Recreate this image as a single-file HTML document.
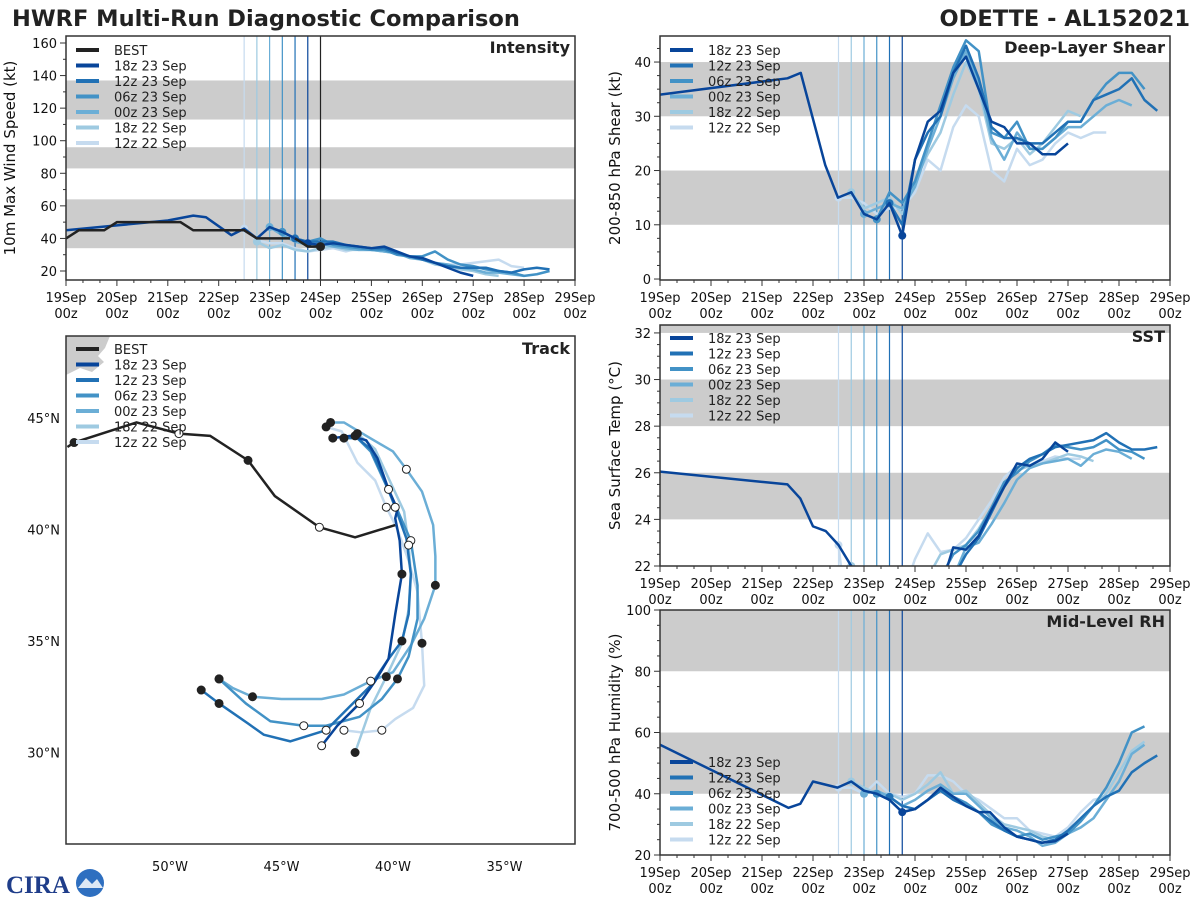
<!DOCTYPE html>
<html><head><meta charset="utf-8"><title>HWRF Multi-Run Diagnostic Comparison</title>
<style>
html,body{margin:0;padding:0;background:#fff;}
svg{display:block;font-family:"DejaVu Sans","Liberation Sans",sans-serif;}
</style></head>
<body>
<svg id="fig" width="1200" height="900" viewBox="0 0 1200 900" xmlns="http://www.w3.org/2000/svg">
<text x="12" y="26" font-size="22.5" font-weight="bold" fill="#222">HWRF Multi-Run Diagnostic Comparison</text>
<text x="1190" y="26" font-size="22.5" font-weight="bold" fill="#222" text-anchor="end">ODETTE - AL152021</text>
<g id="logo">
<text x="6" y="893" font-size="25" font-weight="bold" fill="#1f3d8a" font-family="Liberation Serif,serif">CIRA</text>
<circle cx="90" cy="883" r="14" fill="#2e6fc0"/>
<path d="M78 888 L86 878 L92 884 L97 879 L103 888 Z" fill="#dde8f5"/>
</g>
</svg>
<script>
// ---------- DATA ----------
const runNames = ["18z 23 Sep","12z 23 Sep","06z 23 Sep","00z 23 Sep","18z 22 Sep","12z 22 Sep"];
const runTimes = [4.75,4.5,4.25,4.0,3.75,3.5];
const runColors = ["#08459a","#2171b5","#4292c6","#6baed6","#9ecae1","#c6dbef"];
const dayLabels = ["19Sep","20Sep","21Sep","22Sep","23Sep","24Sep","25Sep","26Sep","27Sep","28Sep","29Sep"];

const intBest = [[0,40],[0.25,45],[0.75,45],[1,50],[2.25,50],[2.5,45],[3.5,45],[3.75,40],[4.4,40]];
const intBest2 = [[4.5,40],[4.75,35],[5,35]];
const int18z23 = [[0,45],[1,48],[2,51],[2.5,54],[2.75,53],[3.25,42],[3.5,46],[3.75,40],[4,47],[4.25,44],[4.5,40],[4.75,37],[5,36],[5.25,37],[5.5,36],[5.75,35],[6,34],[6.25,35],[6.5,32],[6.75,29],[7,28],[7.25,25],[7.5,22],[7.75,19],[8,17]];
const int12z23 = [[4.5,40],[4.75,38],[5,38],[5.25,38],[5.5,36],[5.75,35],[6,34],[6.25,34],[6.5,31],[6.75,29],[7,27],[7.25,25],[7.5,23],[7.75,22],[8,22],[8.25,22],[8.5,20],[8.75,19],[9,21],[9.25,22],[9.5,21]];
const int06z23 = [[4.25,44],[4.5,40],[4.75,38],[5,40],[5.25,36],[5.5,35],[5.75,34],[6,33],[6.25,33],[6.5,30],[6.75,29],[7,29],[7.25,32],[7.5,27],[7.75,24],[8,23],[8.25,21],[8.5,20],[8.75,19],[9,17],[9.25,18],[9.5,20]];
const int00z23 = [[4,47],[4.25,42],[4.5,38],[4.75,36],[5,37],[5.25,35],[5.5,34],[5.75,33],[6,33],[6.25,32],[6.5,31],[6.75,28],[7,27],[7.25,25],[7.5,24],[7.75,22],[8,21],[8.25,19],[8.5,19],[8.75,18],[9,17]];
const int18z22 = [[3.75,38],[4,34],[4.25,36],[4.5,33],[4.75,32],[5,34],[5.25,35],[5.5,33],[5.75,33],[6,33],[6.25,32],[6.5,31],[6.75,29],[7,27],[7.25,24],[7.5,23],[7.75,21],[8,20],[8.25,18],[8.5,17]];
const int12z22 = [[3.5,46],[3.75,39],[4,37],[4.25,37],[4.5,34],[4.75,32],[5,33],[5.25,34],[5.5,32],[5.75,34],[6,33],[6.25,33],[6.5,30],[6.75,29],[7,27],[7.25,25],[7.5,24],[7.75,24],[8,25],[8.25,26],[8.5,27],[8.75,23],[9,22]];

const shr18z23 = [[0,34],[2.5,37],[2.76,38],[3.24,21],[3.49,15],[3.75,16],[4,12],[4.25,11],[4.5,14],[4.75,8],[5,22],[5.25,29],[5.5,31],[5.75,38],[6,41],[6.25,35],[6.5,29],[6.75,28],[7,25],[7.25,25],[7.5,23],[7.75,23],[8,25]];
const shr12z23 = [[4.5,14],[4.75,10],[5,22],[5.25,27],[5.5,30],[5.75,38],[6,43],[6.25,37],[6.5,28],[6.75,26],[7,26],[7.25,25],[7.5,25],[7.75,27],[8,29],[8.25,29],[8.5,33],[8.75,34],[9,35],[9.25,37],[9.5,33],[9.75,31]];
const shr06z23 = [[4.25,11],[4.5,16],[4.75,14],[5,18],[5.25,25],[5.5,32],[5.75,39],[6,44],[6.25,42],[6.5,27],[6.75,26],[7,29],[7.25,24],[7.5,24],[7.75,26],[8,29],[8.25,29],[8.5,33],[8.75,36],[9,38],[9.25,38],[9.5,35]];
const shr00z23 = [[4,12],[4.25,13],[4.5,14],[4.75,13],[5,17],[5.25,24],[5.5,30],[5.75,37],[6,42],[6.25,36],[6.5,26],[6.75,22],[7,27],[7.25,24],[7.5,24],[7.75,26],[8,28],[8.25,28],[8.5,30],[8.75,32],[9,33],[9.25,32]];
const shr18z22 = [[3.75,16],[4,13],[4.25,14],[4.5,15],[4.75,12],[5,18],[5.25,23],[5.5,27],[5.75,34],[6,40],[6.25,35],[6.5,25],[6.75,24],[7,26],[7.25,23],[7.5,25],[7.75,28],[8,31],[8.25,30]];
const shr12z22 = [[3.5,15],[3.75,15],[4,14],[4.25,12],[4.5,13],[4.75,13],[5,16],[5.25,22],[5.5,20],[5.75,28],[6,32],[6.25,30],[6.5,20],[6.75,18],[7,24],[7.25,21],[7.5,22],[7.75,25],[8,27],[8.25,26],[8.5,27],[8.75,27]];

const sst18z23 = [[0,26.05],[2.5,25.5],[2.75,24.9],[3,23.7],[3.25,23.5],[3.5,22.9],[3.75,22],[4,21],[4.75,20],[5.5,21],[5.75,22.8],[6,22.7],[6.25,23.3],[6.5,24.4],[6.75,25.4],[7,26.4],[7.25,26.3],[7.5,26.6],[7.75,27.3],[8,26.9]];
const sst12z23 = [[5.5,20.5],[5.75,21.5],[6,22.5],[6.25,23.2],[6.5,24.3],[6.75,25.4],[7,26.2],[7.25,26.6],[7.5,26.8],[7.75,27.1],[8,27.2],[8.25,27.3],[8.5,27.4],[8.75,27.7],[9,27.3],[9.25,27],[9.5,27],[9.75,27.1]];
const sst06z23 = [[5.25,20.5],[5.5,21.5],[5.75,22.5],[6,22.9],[6.25,23.5],[6.5,24.5],[6.75,25.6],[7,26],[7.25,26.5],[7.5,26.8],[7.75,27.2],[8,27.1],[8.25,27],[8.5,27.1],[8.75,27.4],[9,27],[9.25,26.9],[9.5,26.6]];
const sst00z23 = [[5.5,20.5],[5.75,21.5],[6,22.8],[6.25,23],[6.5,23.8],[6.75,24.7],[7,25.7],[7.25,26.2],[7.5,26.4],[7.75,26.5],[8,26.6],[8.25,26.3],[8.5,26.8],[8.75,27],[9,26.9],[9.25,26.6]];
const sst18z22 = [[3.75,22],[4,21],[5,20.5],[5.25,21.5],[5.5,22.5],[5.75,22.7],[6,22.9],[6.25,23.6],[6.5,24.5],[6.75,25.5],[7,26.1],[7.25,26.3],[7.5,26.4],[7.75,26.6],[8,26.8],[8.25,26.7],[8.5,26.5]];
const sst12z22 = [[3.5,22.9],[3.6,21],[4.8,21],[5,22.3],[5.25,23.4],[5.5,22.6],[5.75,22.7],[6,23.2],[6.25,24],[6.5,24.8],[6.75,25.8],[7,26.3],[7.25,26.3],[7.5,26.5],[7.75,26.7],[8,26.6],[8.25,26.6]];

const rh18z23 = [[0,56],[2.52,35.4],[2.75,36.7],[3,44],[3.48,42],[3.75,44],[4,41],[4.25,40],[4.5,38],[4.75,34],[5,35],[5.25,38],[5.5,42],[5.75,39],[6,36],[6.25,34],[6.47,34],[6.75,29],[7,26],[7.25,25],[7.48,24],[7.75,24.5],[8,27]];
const rh12z23 = [[4.5,39],[4.75,36],[5,35],[5.25,38],[5.5,41],[5.75,38],[6,36],[6.25,34],[6.5,31],[6.75,28],[7,26],[7.25,25],[7.5,24],[7.75,25],[8,28],[8.25,32],[8.5,36],[8.75,39],[9,41],[9.25,47],[9.5,50],[9.75,52.5]];
const rh06z23 = [[4.25,40],[4.5,38],[4.75,34],[5,35],[5.25,38],[5.5,41],[5.75,39],[6,37],[6.25,34],[6.5,30],[6.75,28],[7,26],[7.25,27],[7.5,25],[7.75,26],[8,27],[8.25,31],[8.5,36],[8.75,42],[9,50],[9.25,60],[9.5,62]];
const rh00z23 = [[4,40],[4.25,41],[4.5,39],[4.75,36],[5,38],[5.25,41],[5.5,43],[5.75,40],[6,40],[6.25,36],[6.5,32],[6.75,29],[7,28],[7.25,26],[7.5,23],[7.75,24],[8,27],[8.25,29],[8.5,32],[8.75,38],[9,44],[9.25,53],[9.5,56]];
const rh18z22 = [[3.75,44],[4,42],[4.25,40],[4.5,40],[4.75,38],[5,40],[5.25,43],[5.5,47],[5.75,40],[6,41],[6.25,37],[6.5,33],[6.75,30],[7,29],[7.25,28],[7.5,26],[7.75,25],[8,27],[8.25,31],[8.5,36],[8.75,40],[9,47],[9.25,54],[9.5,57]];
const rh12z22 = [[3.5,42],[3.75,42],[4,40],[4.25,44],[4.5,40],[4.75,39],[5,40],[5.25,46],[5.5,46],[5.75,44],[6,40],[6.25,38],[6.5,35],[6.75,32],[7,32],[7.25,28],[7.5,27],[7.75,26],[8,29],[8.25,34],[8.5,38],[8.75,39]];

// track: [lon (deg W), lat (deg N)]
const trkBest = [[54.6,43.7],[54.3,43.9],[51.5,44.8],[49.6,44.3],[48.2,44.2],[46.5,43.1],[45.3,41.5],[43.3,40.1],[41.7,39.65],[39.9,40.2]];
const trk18z23 = [[42.7,44.1],[41.9,44.2],[41.2,44.0],[40.7,43.2],[40.2,41.8],[39.8,40.9],[39.9,40.5],[39.7,39.5],[39.6,38.0],[39.9,36.2],[40.2,34.2],[40.8,33.2],[41.5,32.2],[42.5,31.2],[43.2,30.3]];
const trk12z23 = [[42.2,44.1],[41.6,44.1],[41.0,43.6],[40.5,42.5],[39.9,41.0],[39.4,39.6],[39.2,38.0],[39.3,36.2],[39.6,35.0],[40.2,34.2],[41.0,33.0],[42.0,32.0],[43.0,31.0],[44.6,30.5],[45.8,30.8],[46.5,31.3],[47.8,32.2],[48.6,32.8]];
const trk06z23 = [[41.7,44.2],[41.0,43.5],[40.5,42.4],[39.9,41.1],[39.2,39.5],[38.9,37.5],[38.9,36.0],[39.3,34.3],[39.8,33.3],[40.5,32.4],[41.5,31.6],[43.0,31.2],[44.0,31.2],[45.5,31.4],[46.6,32.2],[47.8,33.3]];
const trk00z23 = [[42.8,44.8],[42.2,44.8],[41.2,44.2],[40.0,43.5],[39.4,42.7],[38.7,41.7],[38.2,40.2],[38.1,38.8],[38.1,37.5],[38.6,36.0],[39.2,34.8],[40.0,33.6],[41.0,33.2],[42.2,32.6],[43.2,32.4],[45.0,32.4],[46.3,32.5],[47.2,32.9],[47.8,33.3]];
const trk18z22 = [[41.6,44.3],[40.8,43.6],[40.2,42.3],[39.5,40.8],[39.3,39.3],[39.2,38.0],[39.3,36.4],[39.6,34.9],[40.3,33.4],[41.0,32.0],[41.7,30.0]];
const trk12z22 = [[43.0,44.6],[42.3,44.4],[41.6,43.0],[40.8,42.2],[40.3,41.0],[39.8,40.0],[39.3,38.6],[38.9,37.2],[38.7,34.9],[38.6,33.0],[39.1,32.0],[39.9,31.5],[40.5,31.0],[41.4,30.9],[42.2,31.0]];
const lonTicks = [50,45,40,35];
const latTicks = [30,35,40,45];

// ---------- DRAWING ----------
const NS="http://www.w3.org/2000/svg";
const fig=document.getElementById('fig');
function mk(tag,attrs,parent){const e=document.createElementNS(NS,tag);for(const k in attrs)e.setAttribute(k,attrs[k]);(parent||fig).appendChild(e);return e;}

function timePanel(p){
  const g=mk('g',{});
  
  
  const x=d=>p.x0+(d/10)*(p.x1-p.x0);
  const y=v=>p.y1-(v-p.vmin)/(p.vmax-p.vmin)*(p.y1-p.y0);
  const cid='clip-'+p.name;
  const cp=mk('clipPath',{id:cid},g);mk('rect',{x:p.x0,y:p.y0,width:p.x1-p.x0,height:p.y1-p.y0},cp);
  p.bands.forEach(b=>{
    const r=mk('rect',{x:p.x0,y:y(Math.min(b[1],p.vmax)),width:p.x1-p.x0,height:y(b[0])-y(Math.min(b[1],p.vmax)),fill:'#cccccc'},g);
    
    
  });
  runTimes.forEach((t,i)=>{const l=mk('line',{x1:x(t),x2:x(t),y1:p.y0,y2:p.y1,stroke:runColors[i],'stroke-width':1.2},g);
    
    });
  if(p.best){const l=mk('line',{x1:x(5),x2:x(5),y1:p.y0,y2:p.y1,stroke:'#222','stroke-width':1.2},g);
    
    }
  const lg=mk('g',{'clip-path':'url(#'+cid+')'},g);
  for(let i=p.series.length-1;i>=0;i--){
    const s=p.series[i];
    const pl=mk('polyline',{points:s.map(q=>x(q[0])+','+y(q[1])).join(' '),fill:'none',stroke:runColors[i],'stroke-width':2.5,'stroke-linejoin':'round'},lg);
    
    
    const st=s.find(q=>Math.abs(q[0]-runTimes[i])<0.01);
    if(st){const c=mk('circle',{cx:x(st[0]),cy:y(st[1]),r:4,fill:runColors[i]},lg);
      
      }
  }
  if(p.best){[p.best,p.best2].forEach(b=>{const pl=mk('polyline',{points:b.map(q=>x(q[0])+','+y(q[1])).join(' '),fill:'none',stroke:'#222','stroke-width':2.5},lg);
      
      });
    const e=p.best2[p.best2.length-1];const c=mk('circle',{cx:x(e[0]),cy:y(e[1]),r:4.5,fill:'#222'},lg);
    
    }
  const fr=mk('rect',{x:p.x0,y:p.y0,width:p.x1-p.x0,height:p.y1-p.y0,fill:'none',stroke:'#333','stroke-width':1.5},g);
  
  
  for(let d=0;d<=10;d+=1/3){const dd=Math.round(d*3)/3;const major=Math.abs(dd-Math.round(dd))<0.01;
    mk('line',{x1:x(dd),x2:x(dd),y1:p.y1,y2:p.y1+(major?6:3),stroke:'#333','stroke-width':1},g);}
  dayLabels.forEach((l,i)=>{const t=mk('text',{x:x(i),y:p.y1+22,'font-size':13,'text-anchor':'middle',fill:'#111'},g);t.textContent=l;
    
    
    const t2=mk('text',{x:x(i),y:p.y1+38,'font-size':13,'text-anchor':'middle',fill:'#111'},g);t2.textContent='00z';
    
    });
  for(let v=Math.ceil(p.vmin/p.minor)*p.minor;v<=p.vmax+1e-6;v+=p.minor){const vv=Math.round(v*100)/100;const major=Math.abs(vv/p.major-Math.round(vv/p.major))<1e-6;
    mk('line',{x1:p.x0,x2:p.x0-(major?6:3),y1:y(vv),y2:y(vv),stroke:'#333','stroke-width':1},g);
    if(major){const t=mk('text',{x:p.x0-9,y:y(vv)+5,'font-size':13,'text-anchor':'end',fill:'#111'},g);t.textContent=vv;
      
      }}
  const cy=(p.y0+p.y1)/2;
  const yt=mk('text',{x:p.ylx,y:cy,'font-size':15,'text-anchor':'middle',fill:'#111',transform:`rotate(-90 ${p.ylx} ${cy})`},g);yt.textContent=p.ylabel;
  
  
  const tt=mk('text',{x:p.x1-5,y:p.y0+17,'font-size':16,'font-weight':'bold','text-anchor':'end',fill:'#222'},g);tt.textContent=p.title;
  
  
  legend(g,p.x0+10,p.legY,!!p.best);
}
function legend(g,x0,y0,withBest){
  const items=(withBest?[['BEST','#222']]:[]).concat(runNames.map((n,i)=>[n,runColors[i]]));
  const lg=mk('g',{},g);
  
  
  items.forEach((it,i)=>{const yy=y0+i*15.5;
    const e=mk('g',{},lg);
    
    
    mk('line',{x1:x0,x2:x0+23,y1:yy,y2:yy,stroke:it[1],'stroke-width':4},e);
    const t=mk('text',{x:x0+38,y:yy+5,'font-size':13,fill:'#222'},e);t.textContent=it[0];});
}

timePanel({name:'intensity',x0:66,x1:575,y0:36,y1:280,vmin:14.47,vmax:164.3,major:20,minor:10,bands:[[34,64],[83,96],[113,137]],
  series:[int18z23,int12z23,int06z23,int00z23,int18z22,int12z22],best:intBest,best2:intBest2,ylabel:'10m Max Wind Speed (kt)',ylx:15,title:'Intensity',legY:50});
timePanel({name:'shear',x0:660,x1:1170,y0:36,y1:280,vmin:-0.18,vmax:44.8,major:10,minor:2.5,bands:[[10,20],[30,40]],
  series:[shr18z23,shr12z23,shr06z23,shr00z23,shr18z22,shr12z22],ylabel:'200-850 hPa Shear (kt)',ylx:620,title:'Deep-Layer Shear',legY:50});
timePanel({name:'sst',x0:660,x1:1170,y0:325,y1:566,vmin:22,vmax:32.34,major:2,minor:0.5,bands:[[24,26],[28,30],[32,33]],
  series:[sst18z23,sst12z23,sst06z23,sst00z23,sst18z22,sst12z22],ylabel:'Sea Surface Temp (°C)',ylx:620,title:'SST',legY:338});
timePanel({name:'rh',x0:660,x1:1170,y0:610,y1:855,vmin:20,vmax:100,major:20,minor:5,bands:[[40,60],[80,100]],
  series:[rh18z23,rh12z23,rh06z23,rh00z23,rh18z22,rh12z22],ylabel:'700-500 hPa Humidity (%)',ylx:620,title:'Mid-Level RH',legY:762});

// track panel
(function(){
  const X0=66,X1=575,Y0=336,Y1=844;
  const px=lon=>170+(50-lon)*22.3;
  const py=lat=>418-(lat-45)*22.3;
  const g=mk('g',{});
  
  
  const cp=mk('clipPath',{id:'clip-track'},g);mk('rect',{x:X0,y:Y0,width:X1-X0,height:Y1-Y0},cp);
  const cg=mk('g',{'clip-path':'url(#clip-track)'},g);
  const land=mk('path',{d:`M${X0} ${Y0} L110 ${Y0} L105 348 L98 356 L104 362 L92 372 L80 368 L${X0} 375 Z`,fill:'#cccccc'},cg);
  
  
  const tr=[trk18z23,trk12z23,trk06z23,trk00z23,trk18z22,trk12z22];
  for(let i=tr.length-1;i>=0;i--){
    const pl=mk('polyline',{points:tr[i].map(q=>px(q[0])+','+py(q[1])).join(' '),fill:'none',stroke:runColors[i],'stroke-width':2.5,'stroke-linejoin':'round'},cg);
    
    
  }
  const bp=mk('polyline',{points:trkBest.map(q=>px(q[0])+','+py(q[1])).join(' '),fill:'none',stroke:'#222','stroke-width':2.5},cg);
  
  
  tr.forEach((t,i)=>{t.forEach((q,j)=>{if(j%4===0||j===t.length-1){const black=(Math.floor(j/4)%2===0);
    const c=mk('circle',{cx:px(q[0]),cy:py(q[1]),r:4,fill:black?'#222':'#fff',stroke:'#222','stroke-width':1},cg);
    
    }});});
  [[1,true],[3,false],[5,true],[7,false]].forEach(a=>{const q=trkBest[a[0]];
    const c=mk('circle',{cx:px(q[0]),cy:py(q[1]),r:4,fill:a[1]?'#222':'#fff',stroke:'#222','stroke-width':1},cg);
    
    });
  const fr=mk('rect',{x:X0,y:Y0,width:X1-X0,height:Y1-Y0,fill:'none',stroke:'#333','stroke-width':1.5},g);
  
  
  lonTicks.forEach(l=>{const t=mk('text',{x:px(l),y:871,'font-size':13,'text-anchor':'middle',fill:'#111'},g);t.textContent=l+'°W';
    
    });
  latTicks.forEach(l=>{const t=mk('text',{x:60,y:py(l)+5,'font-size':13,'text-anchor':'end',fill:'#111'},g);t.textContent=l+'°N';
    
    });
  const tt=mk('text',{x:X1-5,y:Y0+18,'font-size':16,'font-weight':'bold','text-anchor':'end',fill:'#222'},g);tt.textContent='Track';
  
  
  legend(g,76,349,true);
})();
fig.appendChild(document.getElementById('logo'));
</script>
</body></html>
